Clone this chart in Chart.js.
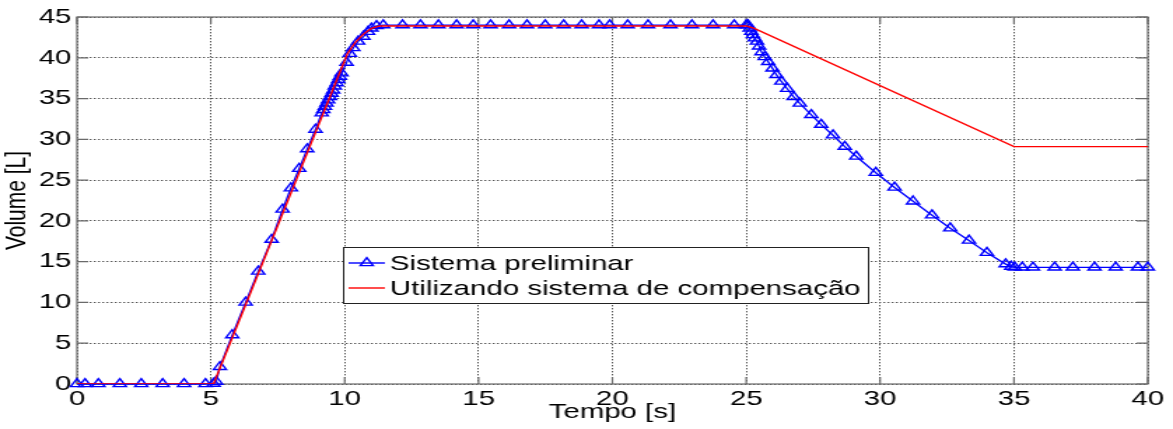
<!DOCTYPE html>
<html>
<head>
<meta charset="utf-8">
<title>Volume x Tempo</title>
<script src="https://cdn.jsdelivr.net/npm/chart.js@4.4.1/dist/chart.umd.min.js"></script>
<style>
  html, body { margin: 0; padding: 0; background: #fff; overflow: hidden; }
  /* the figure is drawn narrow and widened, like the exported plot */
  #wrap { width: 838px; height: 429px; transform: scaleX(1.39976); transform-origin: 0 0; }
</style>
</head>
<body>
<div id="wrap"><canvas id="volumeChart"></canvas></div>
<script>
const xTicks = [0, 5, 10, 15, 20, 25, 30, 35, 40];
const yTicks = [0, 5, 10, 15, 20, 25, 30, 35, 40, 45];

// Sistema preliminar (solver output, one marker per step)
const prelimTime = [
  0, 0.3, 0.8, 1.6, 2.4, 3.2, 4.0, 4.8, 5.1, 5.2, 5.34, 5.8, 6.3, 6.77, 7.27,
  7.68, 7.99, 8.3, 8.6, 8.91, 9.14, 9.2, 9.26, 9.32, 9.38, 9.45, 9.51, 9.57,
  9.63, 9.7, 9.76, 9.82, 9.88, 10.07, 10.19, 10.32, 10.5, 10.7, 10.87, 11.0,
  11.19, 11.44, 12.16, 12.83, 13.5, 14.18, 14.8, 15.45, 16.14, 16.81, 17.49,
  18.18, 18.85, 19.5, 19.9, 20.57, 21.33, 22.17, 22.97, 23.76, 24.55, 25.0,
  25.07, 25.13, 25.19, 25.25, 25.32, 25.4, 25.48, 25.57, 25.69, 25.82, 25.98,
  26.13, 26.31, 26.53, 26.77, 27.0, 27.43, 27.8, 28.24, 28.68, 29.11, 29.84,
  30.54, 31.23, 31.94, 32.62, 33.32, 33.99, 34.69, 34.9, 35.03, 35.31, 35.71,
  36.52, 37.2, 38.01, 38.8, 39.63, 40.0
];
const prelimVolume = [
  0, 0, 0, 0, 0, 0, 0, 0, 0.05, 0.3, 2.1, 6.0, 10.0, 13.8, 17.7,
  21.4, 24.0, 26.4, 28.8, 31.2, 33.2, 33.6, 34.0, 34.4, 34.8, 35.2, 35.6, 36.0,
  36.5, 36.9, 37.3, 37.7, 38.1, 39.4, 40.5, 41.2, 42.0, 42.6, 43.2, 43.6,
  43.9, 44.0, 44.0, 44.0, 44.0, 44.0, 44.0, 44.0, 44.0, 44.0, 44.0,
  44.0, 44.0, 44.0, 44.0, 44.0, 44.0, 44.0, 44.0, 44.0, 44.0, 44.0,
  44.0, 43.6, 43.2, 42.8, 42.4, 42.0, 41.4, 40.7, 40.1, 39.5, 38.7,
  37.9, 37.1, 36.2, 35.2, 34.4, 33.0, 31.8, 30.5, 29.1, 27.9, 25.9,
  24.1, 22.4, 20.7, 19.1, 17.6, 16.1, 14.7, 14.4, 14.3, 14.3, 14.3,
  14.3, 14.3, 14.3, 14.3, 14.3, 14.3
];

// Utilizando sistema de compensação
const compTime = [0, 5.1, 10.1, 10.4, 10.7, 11.0, 11.3, 25.0, 25.3, 35.0, 40.0];
const compVolume = [0, 0, 40.5, 41.9, 42.9, 43.6, 43.9, 43.9, 43.6, 29.1, 29.1];

const FONT = "'Liberation Sans', Arial, sans-serif";
const BLUE = "rgb(0, 0, 255)";
const RED = "rgb(255, 0, 0)";
const MARK_R = 5.3;

function toPoints(xs, ys) {
  return xs.map((t, i) => ({ x: t, y: ys[i] }));
}

function triangle(ctx, x, y, r) {
  ctx.beginPath();
  ctx.moveTo(x, y - r);
  ctx.lineTo(x + 0.866 * r, y + 0.5 * r);
  ctx.lineTo(x - 0.866 * r, y + 0.5 * r);
  ctx.closePath();
  ctx.stroke();
}

// box around the axes with inward tick marks
const axesFrame = {
  id: "axesFrame",
  beforeDatasetsDraw(chart) {
    const { ctx, chartArea: a, scales } = chart;
    ctx.save();
    ctx.strokeStyle = "#6a6a6a";
    ctx.lineWidth = 1.2;
    ctx.strokeRect(a.left, a.top, a.right - a.left, a.bottom - a.top);
    ctx.beginPath();
    xTicks.forEach((v) => {
      const px = scales.x.getPixelForValue(v);
      ctx.moveTo(px, a.bottom); ctx.lineTo(px, a.bottom - 7);
      ctx.moveTo(px, a.top); ctx.lineTo(px, a.top + 7);
    });
    yTicks.forEach((v) => {
      const py = scales.y.getPixelForValue(v);
      ctx.moveTo(a.left, py); ctx.lineTo(a.left + 8, py);
      ctx.moveTo(a.right, py); ctx.lineTo(a.right - 8, py);
    });
    ctx.stroke();
    ctx.restore();
  },
};

// legend box inside the plot
const legendBox = {
  id: "legendBox",
  afterDatasetsDraw(chart) {
    const ctx = chart.ctx;
    const x = 245, y = 247, w = 375, h = 56;
    ctx.save();
    ctx.fillStyle = "#fff";
    ctx.fillRect(x, y, w, h);
    ctx.strokeStyle = "#222";
    ctx.lineWidth = 1;
    ctx.strokeRect(x + 0.5, y + 0.5, w, h);

    ctx.strokeStyle = BLUE;
    ctx.lineWidth = 1.4;
    ctx.beginPath();
    ctx.moveTo(x + 4, y + 16);
    ctx.lineTo(x + 30, y + 16);
    ctx.stroke();
    triangle(ctx, x + 17, y + 16, MARK_R);

    ctx.strokeStyle = RED;
    ctx.lineWidth = 1.4;
    ctx.beginPath();
    ctx.moveTo(x + 4, y + 41);
    ctx.lineTo(x + 30, y + 41);
    ctx.stroke();

    ctx.fillStyle = "#000";
    ctx.font = "21px " + FONT;
    ctx.textBaseline = "middle";
    ctx.textAlign = "left";
    ctx.fillText("Sistema preliminar", x + 33.6, y + 17);
    ctx.fillText("Utilizando sistema de compensação", x + 33.6, y + 42);
    ctx.restore();
  },
};

const ctx = document.getElementById("volumeChart").getContext("2d");
new Chart(ctx, {
  type: "line",
  data: {
    datasets: [
      {
        label: "Sistema preliminar",
        data: toPoints(prelimTime, prelimVolume),
        borderColor: BLUE,
        borderWidth: 1.3,
        pointStyle: "triangle",
        pointRadius: MARK_R,
        pointBorderWidth: 1.4,
        pointBorderColor: BLUE,
        pointBackgroundColor: "rgba(0,0,0,0)",
        tension: 0,
        clip: 10,
        order: 2,
      },
      {
        label: "Utilizando sistema de compensação",
        data: toPoints(compTime, compVolume),
        borderColor: RED,
        borderWidth: 1.4,
        pointRadius: 0,
        tension: 0,
        order: 1,
      },
    ],
  },
  options: {
    responsive: true,
    maintainAspectRatio: false,
    animation: false,
    devicePixelRatio: 1,
    layout: { autoPadding: false, padding: { top: 17, right: 18, bottom: 0, left: 0 } },
    plugins: {
      legend: { display: false },
      tooltip: { enabled: false },
    },
    scales: {
      x: {
        type: "linear",
        min: 0,
        max: 40,
        afterBuildTicks: (scale) => { scale.ticks = xTicks.map((v) => ({ value: v })); },
        afterFit: (scale) => { scale.height = 45; },
        grid: { color: "#555", lineWidth: 1, drawTicks: false },
        border: { display: false, dash: [1.4, 1.6] },
        ticks: { color: "#000", padding: 3, maxRotation: 0, font: { family: FONT, size: 21 } },
        title: {
          display: true,
          text: "Tempo [s]",
          color: "#000",
          padding: { top: 0, bottom: 4 },
          font: { family: FONT, size: 21 },
        },
      },
      y: {
        type: "linear",
        min: 0,
        max: 45,
        afterBuildTicks: (scale) => { scale.ticks = yTicks.map((v) => ({ value: v })); },
        afterFit: (scale) => { scale.width = 55; },
        grid: { color: "#555", lineWidth: 1, drawTicks: false },
        border: { display: false, dash: [1.4, 1.6] },
        ticks: { color: "#000", padding: 4, font: { family: FONT, size: 21 } },
        title: {
          display: true,
          text: "Volume [L]",
          color: "#000",
          padding: { top: 0, bottom: 0 },
          font: { family: FONT, size: 21 },
        },
      },
    },
  },
  plugins: [axesFrame, legendBox],
});
</script>
</body>
</html>
